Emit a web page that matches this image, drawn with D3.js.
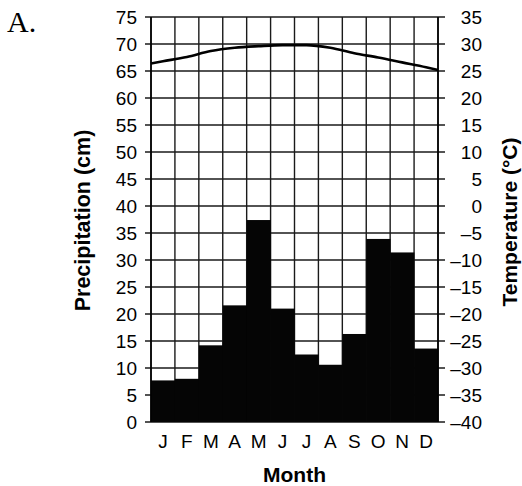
<!DOCTYPE html>
<html>
<head>
<meta charset="utf-8">
<script src="https://cdn.jsdelivr.net/npm/d3@7"></script>
<style>
  html, body { margin: 0; padding: 0; background: #fff; }
  svg { display: block; }
</style>
</head>
<body>
<div id="chart"></div>
<script>
const months = ["J", "F", "M", "A", "M", "J", "J", "A", "S", "O", "N", "D"];
const precipitation = [7.7, 8.0, 14.2, 21.6, 37.4, 21.0, 12.5, 10.6, 16.3, 33.9, 31.4, 13.6];
const temperature = [26.8, 27.6, 28.7, 29.3, 29.6, 29.8, 29.8, 29.3, 28.3, 27.5, 26.6, 25.7];
const temperatureEnds = [26.4, 25.2];
const precipTicks = d3.range(0, 80, 5);
const tempTicks = d3.range(-40, 40, 5);

const width = 522, height = 486;
const margin = { top: 17, right: 84, bottom: 64, left: 151 };
const innerWidth = width - margin.left - margin.right;
const innerHeight = height - margin.top - margin.bottom;
const sans = "'Liberation Sans', Arial, Helvetica, sans-serif";
const gridColor = "#1a1a1a";

const svg = d3.select("#chart").append("svg")
    .attr("width", width)
    .attr("height", height)
    .style("font-family", sans);

const g = svg.append("g")
    .attr("transform", `translate(${margin.left},${margin.top})`);

const xScale = d3.scaleBand()
    .domain(d3.range(months.length))
    .range([0, innerWidth])
    .padding(0);

const yScale = d3.scaleLinear()
    .domain([0, 75])
    .range([innerHeight, 0]);

const tScale = d3.scaleLinear()
    .domain([-40, 35])
    .range([innerHeight, 0]);

// vertical grid at month boundaries
g.append("g")
    .selectAll("line")
    .data(d3.range(months.length + 1))
    .enter()
    .append("line")
    .attr("x1", d => d * xScale.bandwidth())
    .attr("x2", d => d * xScale.bandwidth())
    .attr("y1", 0)
    .attr("y2", innerHeight)
    .attr("stroke", gridColor)
    .attr("stroke-width", 1.4);

// horizontal grid with outward ticks on both sides
g.append("g")
    .selectAll("line")
    .data(precipTicks)
    .enter()
    .append("line")
    .attr("x1", -6)
    .attr("x2", innerWidth + 7)
    .attr("y1", d => yScale(d))
    .attr("y2", d => yScale(d))
    .attr("stroke", gridColor)
    .attr("stroke-width", 1.4);

// bars
g.append("g")
    .selectAll("rect")
    .data(precipitation)
    .enter()
    .append("rect")
    .attr("x", (d, i) => xScale(i))
    .attr("width", xScale.bandwidth() + 0.3)
    .attr("y", d => yScale(d))
    .attr("height", d => innerHeight - yScale(d))
    .attr("fill", "#050505");

// frame sides
g.append("line")
    .attr("x1", 0).attr("x2", 0)
    .attr("y1", 0).attr("y2", innerHeight)
    .attr("stroke", "#000").attr("stroke-width", 1.6);
g.append("line")
    .attr("x1", innerWidth).attr("x2", innerWidth)
    .attr("y1", 0).attr("y2", innerHeight)
    .attr("stroke", "#000").attr("stroke-width", 1.6);

// temperature line
const tempPoints = [{ x: 0, t: temperatureEnds[0] }]
    .concat(temperature.map((t, i) => ({ x: xScale(i) + xScale.bandwidth() / 2, t })))
    .concat([{ x: innerWidth, t: temperatureEnds[1] }]);

g.append("path")
    .datum(tempPoints)
    .attr("fill", "none")
    .attr("stroke", "#000")
    .attr("stroke-width", 2.6)
    .attr("d", d3.line().x(d => d.x).y(d => tScale(d.t)).curve(d3.curveMonotoneX));

// left axis labels
g.append("g")
    .call(d3.axisLeft(yScale).tickValues(precipTicks).tickSize(0).tickPadding(14))
    .call(a => a.select(".domain").remove())
    .call(a => a.selectAll("text")
        .style("font-family", sans)
        .style("font-size", "19px")
        .attr("fill", "#000")
        .attr("dy", "0.36em"));

// right axis labels (right-aligned)
g.append("g")
    .attr("transform", `translate(${innerWidth},0)`)
    .call(d3.axisRight(tScale).tickValues(tempTicks).tickSize(0)
        .tickFormat(d => d < 0 ? "\u2013" + Math.abs(d) : String(d)))
    .call(a => a.select(".domain").remove())
    .call(a => a.selectAll("text")
        .style("font-family", sans)
        .style("font-size", "19px")
        .attr("fill", "#000")
        .attr("text-anchor", "end")
        .attr("x", 44)
        .attr("dy", "0.36em"));

// month labels
g.append("g")
    .selectAll("text")
    .data(months)
    .enter()
    .append("text")
    .attr("x", (d, i) => xScale(i) + xScale.bandwidth() / 2)
    .attr("y", innerHeight + 26)
    .attr("text-anchor", "middle")
    .style("font-size", "19px")
    .attr("fill", "#000")
    .text(d => d);

// axis titles
svg.append("text")
    .attr("x", margin.left + innerWidth / 2)
    .attr("y", 482)
    .attr("text-anchor", "middle")
    .style("font-size", "21px")
    .style("font-weight", "bold")
    .text("Month");

svg.append("text")
    .attr("transform", "translate(90,220.5) rotate(-90)")
    .attr("text-anchor", "middle")
    .style("font-size", "21.5px")
    .style("font-weight", "bold")
    .text("Precipitation (cm)");

svg.append("text")
    .attr("transform", "translate(517,222) rotate(-90)")
    .attr("text-anchor", "middle")
    .style("font-size", "21px")
    .style("font-weight", "bold")
    .text("Temperature (°C)");

// panel letter
svg.append("text")
    .attr("x", 7)
    .attr("y", 32)
    .style("font-family", "'Liberation Serif', 'Times New Roman', serif")
    .style("font-size", "30px")
    .text("A.");
</script>
</body>
</html>
